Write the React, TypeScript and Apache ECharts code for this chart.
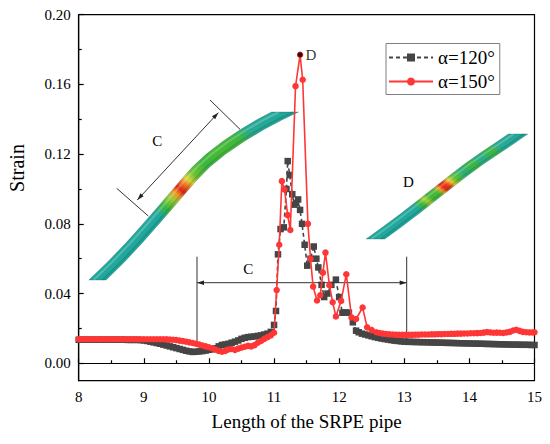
import React, { useEffect, useRef } from "react";
import * as echarts from "echarts";

// ---------- data ----------
const seriesNames = ["α=120°", "α=150°"];

// strain along the pipe, alpha = 120 deg  [length, strain]
const strain120: [number, number][] = [
  [8.0, 0.0135], [8.05, 0.0135], [8.1, 0.0135], [8.15, 0.0135], [8.2, 0.0135], [8.25, 0.0135],
  [8.3, 0.0135], [8.35, 0.0135], [8.4, 0.0135], [8.45, 0.0135], [8.5, 0.0135], [8.55, 0.0135],
  [8.6, 0.0135], [8.65, 0.0135], [8.7, 0.0135], [8.75, 0.0134], [8.8, 0.0134], [8.85, 0.0134],
  [8.9, 0.0134], [8.95, 0.0133], [9.0, 0.0131], [9.05, 0.0128], [9.1, 0.0124], [9.15, 0.012],
  [9.2, 0.0116], [9.25, 0.0112], [9.3, 0.0107], [9.35, 0.0102], [9.4, 0.0097], [9.45, 0.0092],
  [9.5, 0.0087], [9.55, 0.0082], [9.6, 0.0077], [9.65, 0.0072], [9.7, 0.0068], [9.75, 0.0065],
  [9.8, 0.0066], [9.85, 0.0068], [9.9, 0.007], [9.95, 0.0073], [10.0, 0.0077], [10.05, 0.008],
  [10.1, 0.0086], [10.15, 0.0097], [10.2, 0.0105], [10.25, 0.0108], [10.3, 0.0112], [10.35, 0.0118],
  [10.4, 0.0124], [10.45, 0.0131], [10.5, 0.014], [10.55, 0.0146], [10.6, 0.015], [10.65, 0.0152],
  [10.7, 0.0154], [10.75, 0.0157], [10.8, 0.016], [10.85, 0.0165], [10.9, 0.017], [10.95, 0.018],
  [11.0, 0.022], [11.03, 0.03], [11.06, 0.0625], [11.1, 0.077], [11.15, 0.078], [11.19, 0.1],
  [11.21, 0.116], [11.24, 0.108], [11.28, 0.097], [11.31, 0.091], [11.34, 0.092], [11.37, 0.094],
  [11.4, 0.088], [11.43, 0.08], [11.47, 0.068], [11.51, 0.056], [11.56, 0.06], [11.61, 0.067],
  [11.65, 0.06], [11.68, 0.055], [11.73, 0.045], [11.77, 0.038], [11.82, 0.04], [11.88, 0.045],
  [11.95, 0.048], [12.0, 0.038], [12.05, 0.029], [12.1, 0.0292], [12.15, 0.029], [12.21, 0.0235],
  [12.26, 0.0187], [12.3, 0.0178], [12.35, 0.017], [12.4, 0.0165], [12.45, 0.016], [12.5, 0.0155],
  [12.55, 0.015], [12.6, 0.0146], [12.65, 0.0142], [12.7, 0.0139], [12.75, 0.0136], [12.8, 0.0133],
  [12.85, 0.013], [12.9, 0.0128], [12.95, 0.0126], [13.0, 0.0124], [13.05, 0.0123], [13.1, 0.0123],
  [13.15, 0.0122], [13.2, 0.0122], [13.25, 0.0121], [13.3, 0.0121], [13.35, 0.012], [13.4, 0.012],
  [13.45, 0.0119], [13.5, 0.0119], [13.55, 0.0118], [13.6, 0.0118], [13.65, 0.0117], [13.7, 0.0117],
  [13.75, 0.0116], [13.8, 0.0116], [13.85, 0.0115], [13.9, 0.0115], [13.95, 0.0114], [14.0, 0.0114],
  [14.05, 0.0113], [14.1, 0.0113], [14.15, 0.0112], [14.2, 0.0112], [14.25, 0.0111], [14.3, 0.0111],
  [14.35, 0.011], [14.4, 0.011], [14.45, 0.0109], [14.5, 0.0109], [14.55, 0.0108], [14.6, 0.0108],
  [14.65, 0.0107], [14.7, 0.0107], [14.75, 0.0107], [14.8, 0.0106], [14.85, 0.0106], [14.9, 0.0106],
  [14.95, 0.0105], [15.0, 0.0105],
];

// strain along the pipe, alpha = 150 deg  [length, strain]
const strain150: [number, number][] = [
  [8.0, 0.0138], [8.05, 0.0138], [8.1, 0.0138], [8.15, 0.0138], [8.2, 0.0138], [8.25, 0.0138],
  [8.3, 0.0138], [8.35, 0.0138], [8.4, 0.0138], [8.45, 0.0138], [8.5, 0.0138], [8.55, 0.0138],
  [8.6, 0.0138], [8.65, 0.0138], [8.7, 0.0138], [8.75, 0.0138], [8.8, 0.0138], [8.85, 0.0138],
  [8.9, 0.0138], [8.95, 0.0138], [9.0, 0.0138], [9.05, 0.0138], [9.1, 0.0138], [9.15, 0.0138],
  [9.2, 0.0138], [9.25, 0.0138], [9.3, 0.0138], [9.35, 0.0137], [9.4, 0.0136], [9.45, 0.0135],
  [9.5, 0.0133], [9.55, 0.013], [9.6, 0.0127], [9.65, 0.0124], [9.7, 0.012], [9.75, 0.0116],
  [9.8, 0.0112], [9.85, 0.0107], [9.9, 0.0102], [9.95, 0.0097], [10.0, 0.0092], [10.05, 0.0086],
  [10.1, 0.0079], [10.15, 0.0071], [10.2, 0.0066], [10.25, 0.0071], [10.3, 0.0079], [10.35, 0.0082],
  [10.4, 0.0077], [10.45, 0.0084], [10.5, 0.009], [10.55, 0.0095], [10.6, 0.01], [10.65, 0.0097],
  [10.7, 0.0104], [10.75, 0.0118], [10.8, 0.0128], [10.85, 0.014], [10.9, 0.015], [10.95, 0.016],
  [11.0, 0.0175], [11.04, 0.042], [11.08, 0.068], [11.12, 0.1045], [11.16, 0.0997], [11.21, 0.085],
  [11.25, 0.0765], [11.33, 0.159], [11.4, 0.177], [11.44, 0.1627], [11.52, 0.08], [11.56, 0.06],
  [11.6, 0.044], [11.66, 0.036], [11.71, 0.039], [11.75, 0.052], [11.79, 0.0635], [11.85, 0.0448],
  [11.9, 0.035], [11.95, 0.0269], [12.03, 0.0358], [12.11, 0.0511], [12.19, 0.0263], [12.26, 0.0254],
  [12.36, 0.032], [12.43, 0.0206], [12.5, 0.019], [12.57, 0.0178], [12.62, 0.0174], [12.67, 0.017],
  [12.72, 0.0168], [12.77, 0.0166], [12.82, 0.0165], [12.87, 0.0164], [12.92, 0.0163], [12.97, 0.0163],
  [13.02, 0.0163], [13.07, 0.0163], [13.12, 0.0163], [13.17, 0.0164], [13.22, 0.0164], [13.27, 0.0165],
  [13.32, 0.0165], [13.37, 0.0165], [13.42, 0.0166], [13.47, 0.0166], [13.52, 0.0167], [13.57, 0.0167],
  [13.62, 0.0168], [13.67, 0.0168], [13.72, 0.0169], [13.77, 0.0169], [13.82, 0.017], [13.87, 0.017],
  [13.92, 0.0171], [13.97, 0.0171], [14.02, 0.0172], [14.07, 0.0172], [14.12, 0.0173], [14.17, 0.0174],
  [14.22, 0.0176], [14.27, 0.0179], [14.32, 0.0177], [14.37, 0.0175], [14.42, 0.0176], [14.47, 0.0175],
  [14.52, 0.0174], [14.57, 0.0177], [14.62, 0.018], [14.67, 0.0188], [14.72, 0.0192], [14.77, 0.0186],
  [14.82, 0.018], [14.87, 0.0178], [14.92, 0.0177], [14.97, 0.0177], [15.0, 0.0178],
];

// point D (maximum strain of alpha = 150 deg)
const peakPoint: [number, number][] = [[11.4, 0.177]];
const peakLabel = "D";

const yTickValues = [0, 0.04, 0.08, 0.12, 0.16, 0.2];
const yMinorValues = [0.02, 0.06, 0.1, 0.14, 0.18];

// ---------- drawing helpers (inset pictures / annotations) ----------
const FF = "Liberation Serif";

type Pt = [number, number];

function pipeShapes(center: Pt[], half: number, stops: [number, string][]) {
  const L: Pt[] = [];
  const R: Pt[] = [];
  const hl: Pt[] = [];
  const sh: Pt[] = [];
  center.forEach((p, i) => {
    const a = center[Math.max(0, i - 1)];
    const b = center[Math.min(center.length - 1, i + 1)];
    const dx = b[0] - a[0];
    const dy = b[1] - a[1];
    const s = Math.abs(dy) / Math.hypot(dx, dy);
    const hw = half / Math.max(s, 0.3);
    L.push([p[0] - hw, p[1]]);
    R.push([p[0] + hw, p[1]]);
    hl.push([p[0] - hw * 0.45, p[1]]);
    sh.push([p[0] + hw * 0.6, p[1]]);
  });
  const grad = new echarts.graphic.LinearGradient(
    0, 1, 1, 0,
    stops.map(([o, c]) => ({ offset: o, color: c }))
  );
  return [
    {
      type: "polygon",
      z: 1,
      silent: true,
      shape: { points: L.concat(R.slice().reverse()) },
      style: { fill: grad, stroke: "rgba(0,80,70,0.45)", lineWidth: 0.6 },
    },
    {
      type: "polyline",
      z: 1,
      silent: true,
      shape: { points: hl },
      style: { stroke: "rgba(255,255,255,0.22)", lineWidth: 2, fill: null },
    },
    {
      type: "polyline",
      z: 1,
      silent: true,
      shape: { points: sh },
      style: { stroke: "rgba(0,40,40,0.15)", lineWidth: 2, fill: null },
    },
  ];
}

function seg(a: Pt, b: Pt, w = 1) {
  return {
    type: "line",
    z: 3,
    silent: true,
    shape: { x1: a[0], y1: a[1], x2: b[0], y2: b[1] },
    style: { stroke: "#333", lineWidth: w },
  };
}

function arrowHead(tip: Pt, from: Pt, size = 7, half = 2.2) {
  const dx = tip[0] - from[0];
  const dy = tip[1] - from[1];
  const len = Math.hypot(dx, dy);
  const ux = dx / len;
  const uy = dy / len;
  const bx = tip[0] - ux * size;
  const by = tip[1] - uy * size;
  const nx = -uy;
  const ny = ux;
  return {
    type: "polygon",
    z: 3,
    silent: true,
    shape: {
      points: [
        tip,
        [bx + nx * half, by + ny * half],
        [bx - nx * half, by - ny * half],
      ],
    },
    style: { fill: "#222" },
  };
}

function label(text: string, x: number, y: number, size = 15) {
  return {
    type: "text",
    z: 4,
    silent: true,
    x,
    y,
    style: {
      text,
      fontFamily: FF,
      fontSize: size,
      fill: "#000",
      align: "center",
      verticalAlign: "middle",
    },
  };
}

export default function App() {
  const ref = useRef<HTMLDivElement>(null);

  useEffect(() => {
    if (!ref.current) return;
    const chart = echarts.init(ref.current, undefined, { renderer: "svg" });

    const teal = "#21a79c";
    const green = "#3db63c";
    const pipe1Center: Pt[] = [
      [97.5, 280], [116, 262], [134, 243], [150, 225], [164, 209], [176, 195], [188, 181],
      [201, 167], [216, 154], [234, 141], [253, 129], [270, 119.5], [285, 112],
    ];
    const pipe1Stops: [number, string][] = [
      [0, teal], [0.36, teal], [0.4, green], [0.44, "#9cca36"], [0.465, "#f09a22"],
      [0.488, "#e02818"], [0.51, "#ee6a1e"], [0.535, "#dcd23a"], [0.565, "#6cc232"],
      [0.62, green], [0.7, "#48ba36"], [0.78, "#3fb640"], [0.83, "#27a995"], [1, teal],
    ];
    const pipe2Center: Pt[] = [
      [375.5, 239], [392, 227], [410, 213.5], [426, 201], [442, 188.5], [458, 176],
      [474, 164], [490, 153], [505, 143], [518, 134],
    ];
    const pipe2Stops: [number, string][] = [
      [0, teal], [0.3, teal], [0.34, green], [0.37, "#a9cc35"], [0.4, green], [0.44, "#47ba38"],
      [0.465, "#e8a024"], [0.486, "#e02a18"], [0.51, "#e8401c"], [0.535, "#e6c830"],
      [0.565, "#5cbf36"], [0.62, "#2fae7a"], [0.68, green], [0.74, "#2aab8e"], [0.8, green],
      [0.86, "#27a995"], [1, teal],
    ];

    const graphics: any[] = [
      ...pipeShapes(pipe1Center, 6, pipe1Stops),
      ...pipeShapes(pipe2Center, 5.5, pipe2Stops),
      // dimension C on the first inset
      seg([218.3, 112.7], [137.3, 200]),
      arrowHead([218.3, 112.7], [137.3, 200]),
      arrowHead([137.3, 200], [218.3, 112.7]),
      seg([210, 100], [240, 129.3]),
      seg([116.7, 188.3], [148.3, 216]),
      label("C", 157.3, 141),
      // dimension C on the chart
      seg([197, 282.7], [406.7, 282.7]),
      arrowHead([197, 282.7], [406.7, 282.7]),
      arrowHead([406.7, 282.7], [197, 282.7]),
      seg([197, 256.7], [197, 346.7]),
      seg([406.7, 256.7], [406.7, 340]),
      label("C", 248.3, 268.5),
      // D on the second inset
      label("D", 408.3, 181.5),
      // y axis name
      {
        type: "text",
        z: 4,
        silent: true,
        x: 17,
        y: 168,
        rotation: Math.PI / 2,
        style: {
          text: "Strain",
          fontFamily: FF,
          fontSize: 20,
          fill: "#000",
          align: "center",
          verticalAlign: "middle",
        },
      },
    ];

    chart.setOption({
      animation: false,
      backgroundColor: "#fff",
      textStyle: { fontFamily: FF },
      grid: {
        left: 78.7,
        right: 15.5,
        top: 14.7,
        bottom: 63.3,
        show: true,
        borderColor: "#000",
        borderWidth: 1.2,
        backgroundColor: "transparent",
      },
      legend: {
        data: seriesNames,
        orient: "vertical",
        left: 386,
        top: 43.5,
        itemWidth: 44,
        itemHeight: 10,
        itemGap: 4,
        padding: [4, 5, 3, 2],
        borderColor: "#808080",
        borderWidth: 1,
        backgroundColor: "#fff",
        textStyle: { fontFamily: FF, fontSize: 19, color: "#000", lineHeight: 20 },
      },
      xAxis: {
        type: "value",
        min: 8,
        max: 15,
        interval: 1,
        name: "Length of the SRPE pipe",
        nameLocation: "middle",
        nameGap: 31,
        nameTextStyle: { fontFamily: FF, fontSize: 19, color: "#000" },
        axisLine: { show: true, lineStyle: { color: "#000", width: 1.2 } },
        axisTick: { show: true, inside: true, length: 5, lineStyle: { color: "#000", width: 1.2 } },
        minorTick: { show: true, splitNumber: 2, length: 3, lineStyle: { color: "#000", width: 1.2 } },
        splitLine: { show: false },
        axisLabel: { fontFamily: FF, fontSize: 15, color: "#000", margin: 9 },
      },
      yAxis: [
        {
          type: "value",
          min: -0.01,
          max: 0.2,
          axisLine: { show: true, lineStyle: { color: "#000", width: 1.2 } },
          axisTick: {
            show: true,
            inside: true,
            length: 5,
            customValues: yTickValues,
            lineStyle: { color: "#000", width: 1.2 },
          },
          splitLine: { show: false },
          axisLabel: {
            fontFamily: FF,
            fontSize: 15,
            color: "#000",
            margin: 8,
            customValues: yTickValues,
            formatter: (v: number) => (v < -1e-9 ? "" : v.toFixed(2)),
          },
        },
        {
          type: "value",
          min: -0.01,
          max: 0.2,
          position: "left",
          axisLine: { show: false },
          axisTick: {
            show: true,
            inside: true,
            length: 3,
            customValues: yMinorValues,
            lineStyle: { color: "#000", width: 1.2 },
          },
          axisLabel: { show: false, customValues: yMinorValues },
          splitLine: { show: false },
        },
      ],
      graphic: graphics,
      series: [
        {
          name: seriesNames[0],
          type: "line",
          data: strain120,
          z: 2,
          symbol: "rect",
          symbolSize: 6.5,
          color: "#454545",
          itemStyle: { color: "#454545" },
          lineStyle: { color: "#454545", width: 1.6, type: [4, 3] },
        },
        {
          name: seriesNames[1],
          type: "line",
          data: strain150,
          z: 3,
          symbol: "circle",
          symbolSize: 6.5,
          color: "#ff3636",
          itemStyle: { color: "#ff3636" },
          lineStyle: { color: "#ff3636", width: 1.6 },
        },
        {
          name: "peak",
          type: "scatter",
          data: peakPoint,
          z: 5,
          symbol: "circle",
          symbolSize: 5,
          itemStyle: { color: "#000" },
          label: {
            show: true,
            position: "right",
            distance: 3,
            formatter: peakLabel,
            fontFamily: FF,
            fontSize: 15,
            color: "#000",
          },
        },
      ],
    });

    return () => chart.dispose();
  }, []);

  return (
    <div
      ref={ref}
      style={{ position: "fixed", left: 0, top: 0, width: 550, height: 444 }}
    />
  );
}
